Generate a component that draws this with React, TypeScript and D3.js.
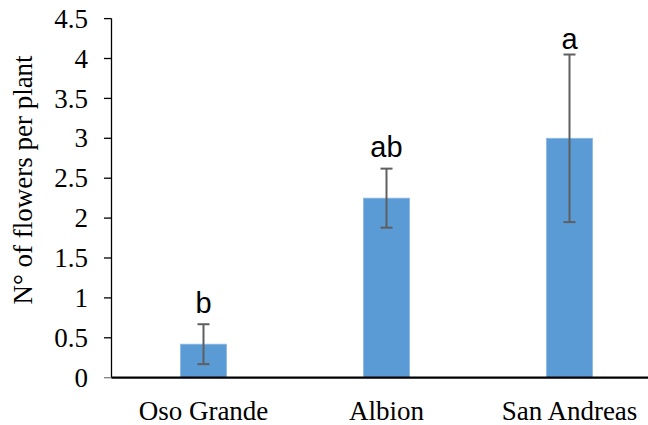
import React from "react";
import * as d3 from "d3";

// Flowers per plant by cultivar (mean ± SE) with significance letters
const cultivars = ["Oso Grande", "Albion", "San Andreas"];
const meanFlowers = [0.42, 2.25, 3.0];
const seFlowers = [0.25, 0.37, 1.05];
const groupLetters = ["b", "ab", "a"];
const yTicks = [0, 0.5, 1, 1.5, 2, 2.5, 3, 3.5, 4, 4.5];

const W = 648;
const H = 425;
const serif = "Liberation Serif, DejaVu Serif, Times New Roman, serif";
const sans = "Liberation Sans, Arial, sans-serif";

export default function App() {
  const x = d3.scaleBand<string>().domain(cultivars).range([112, 661]).padding(0);
  const y = d3.scaleLinear().domain([0, 4.5]).range([377.7, 18.6]);
  const barW = x.bandwidth() * 0.252;
  const capW = 12;
  const axisX = 111.5;
  const plotTop = y(4.5);
  const serifStyle = { fontFamily: serif, fontSize: "27px" };

  return (
    <svg
      width={W}
      height={H}
      style={{ position: "absolute", left: 0, top: 0, background: "#fff" }}
    >
      {/* y axis */}
      <line x1={axisX} x2={axisX} y1={y(4.5)} y2={y(0)} stroke="#000" strokeWidth={1.3} />
      {yTicks.map((t) => (
        <g key={t} transform={`translate(0,${y(t)})`}>
          <line
            x1={104}
            x2={axisX}
            stroke={t === 0 ? "#808080" : "#000"}
            strokeWidth={1.3}
          />
          <text x={88} dy="0.34em" textAnchor="end" style={serifStyle} fill="#000">
            {d3.format("~g")(t)}
          </text>
        </g>
      ))}

      {/* bars */}
      {cultivars.map((c, i) => {
        const cx = (x(c) as number) + x.bandwidth() / 2;
        return (
          <rect
            key={c}
            x={cx - barW / 2}
            y={y(meanFlowers[i])}
            width={barW}
            height={y(0) - y(meanFlowers[i])}
            fill="#5B9BD5"
            stroke="#8DB8E3"
            strokeWidth={0.8}
          />
        );
      })}

      {/* error bars */}
      {cultivars.map((c, i) => {
        const cx = (x(c) as number) + x.bandwidth() / 2;
        const hi = y(meanFlowers[i] + seFlowers[i]);
        const lo = y(meanFlowers[i] - seFlowers[i]);
        return (
          <g key={c} stroke="#5f5f5f" strokeWidth={2}>
            <line x1={cx} x2={cx} y1={hi} y2={lo} />
            <line x1={cx - capW / 2} x2={cx + capW / 2} y1={hi} y2={hi} />
            <line x1={cx - capW / 2} x2={cx + capW / 2} y1={lo} y2={lo} />
          </g>
        );
      })}

      {/* significance letters, kept inside the plot area */}
      {cultivars.map((c, i) => {
        const cx = (x(c) as number) + x.bandwidth() / 2;
        const top = y(meanFlowers[i] + seFlowers[i]);
        const base = Math.max(top - 11.5, plotTop + 30.5);
        return (
          <text
            key={c}
            x={cx}
            y={base}
            textAnchor="middle"
            style={{ fontFamily: sans, fontSize: "29px" }}
            fill="#000"
          >
            {groupLetters[i]}
          </text>
        );
      })}

      {/* x axis */}
      <line x1={axisX} x2={W} y1={y(0)} y2={y(0)} stroke="#000" strokeWidth={2.2} />
      {cultivars.map((c) => (
        <text
          key={c}
          x={(x(c) as number) + x.bandwidth() / 2}
          y={420}
          textAnchor="middle"
          style={serifStyle}
          fill="#000"
        >
          {c}
        </text>
      ))}

      {/* y axis title */}
      <text
        transform={`translate(32,${180}) rotate(-90)`}
        textAnchor="middle"
        style={serifStyle}
        fill="#000"
      >
        N° of flowers per plant
      </text>
    </svg>
  );
}
